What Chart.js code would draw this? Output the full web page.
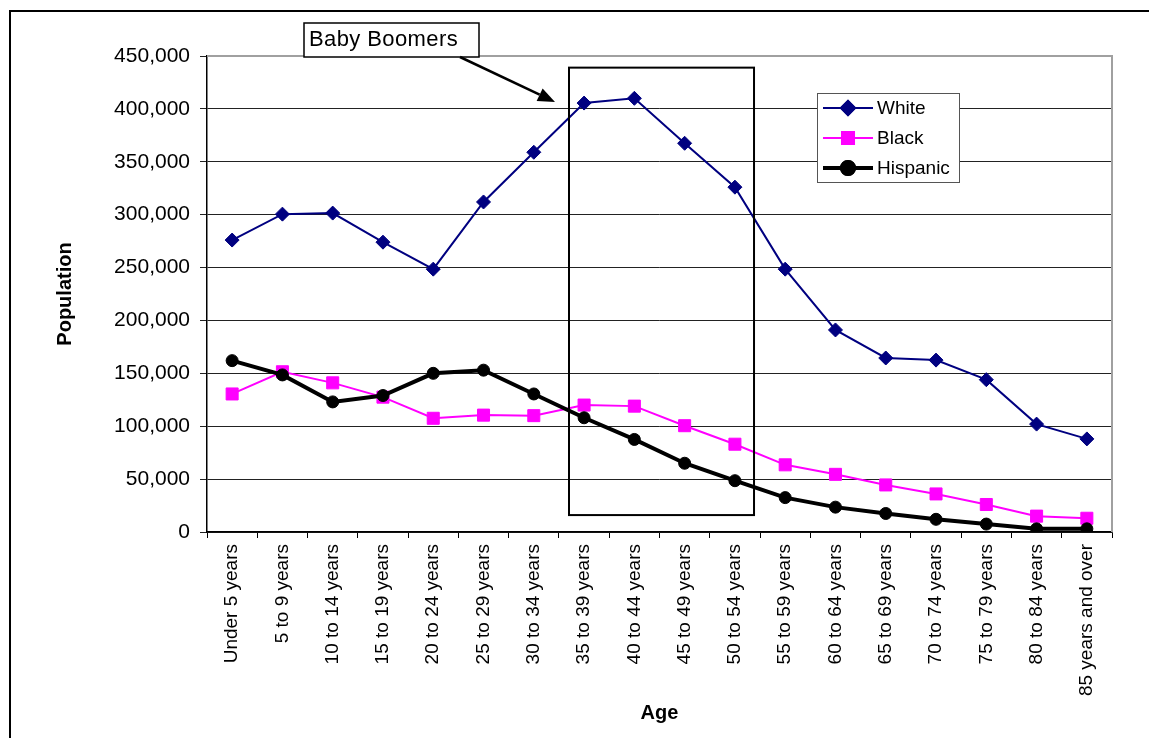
<!DOCTYPE html>
<html lang="en">
  <head>
    <meta charset="UTF-8" />
    <title>Population by Age</title>
    <script src="https://cdn.jsdelivr.net/npm/chart.js"></script>
    <style>
      html, body {
        margin: 0;
        padding: 0;
        background: #ffffff;
      }
      #wrap {
        width: 1149px;
        height: 738px;
      }
    </style>
  </head>
  <body>
    <div id="wrap"><canvas id="popChart" width="1149" height="738"></canvas></div>

    <script>
      const ageGroups = [
        "Under 5 years", "5 to 9 years", "10 to 14 years", "15 to 19 years",
        "20 to 24 years", "25 to 29 years", "30 to 34 years", "35 to 39 years",
        "40 to 44 years", "45 to 49 years", "50 to 54 years", "55 to 59 years",
        "60 to 64 years", "65 to 69 years", "70 to 74 years", "75 to 79 years",
        "80 to 84 years", "85 years and over"
      ];
      const white = [
        276000, 300500, 301500, 274000, 248500, 312000, 359000, 405500, 410000,
        367500, 326000, 248500, 191000, 164500, 162500, 144000, 102000, 88000
      ];
      const black = [
        130500, 151500, 141000, 127500, 107500, 110500, 110000, 120000, 119000,
        100500, 83000, 63500, 54500, 44500, 36000, 26000, 15000, 13000
      ];
      const hispanic = [
        162000, 148500, 123000, 129000, 150000, 153000, 130500, 108000, 87500,
        65000, 48500, 32500, 23500, 17500, 12000, 7500, 3000, 3000
      ];
      const yTicks = [0, 50000, 100000, 150000, 200000, 250000, 300000, 350000, 400000, 450000];

      const FONT = "'Liberation Sans', Arial, sans-serif";

      // boomer box spans (category index / population)
      const boomerBox = { x0: 6.7, x1: 10.38, y0: 16000, y1: 439000 };

      const overlay = {
        id: "overlay",
        beforeDraw(chart) {
          const ctx = chart.ctx;
          ctx.save();
          ctx.fillStyle = "#ffffff";
          ctx.fillRect(0, 0, chart.width, chart.height);
          ctx.restore();
        },
        afterDraw(chart) {
          const { ctx, chartArea: a, scales } = chart;
          const x = scales.x, y = scales.y;
          ctx.save();

          // plot area border (top / right, gray)
          ctx.strokeStyle = "#a0a0a0";
          ctx.lineWidth = 2;
          ctx.beginPath();
          ctx.moveTo(a.left, a.top);
          ctx.lineTo(a.right, a.top);
          ctx.lineTo(a.right, a.bottom);
          ctx.stroke();

          // outer frame
          ctx.strokeStyle = "#000";
          ctx.lineWidth = 2;
          ctx.beginPath();
          ctx.moveTo(10, chart.height + 5);
          ctx.lineTo(10, 11);
          ctx.lineTo(chart.width + 5, 11);
          ctx.stroke();

          // baby boomer rectangle
          const bx0 = x.getPixelForValue(boomerBox.x0);
          const bx1 = x.getPixelForValue(boomerBox.x1);
          const by0 = y.getPixelForValue(boomerBox.y1);
          const by1 = y.getPixelForValue(boomerBox.y0);
          ctx.strokeStyle = "#000";
          ctx.lineWidth = 2;
          ctx.strokeRect(bx0, by0, bx1 - bx0, by1 - by0);

          // label box
          ctx.fillStyle = "#fff";
          ctx.lineWidth = 1.5;
          ctx.fillRect(304, 23, 175, 34);
          ctx.strokeRect(304, 23, 175, 34);
          ctx.fillStyle = "#000";
          ctx.font = "22px " + FONT;
          ctx.textBaseline = "middle";
          ctx.textAlign = "left";
          ctx.letterSpacing = "0.4px";
          ctx.fillText("Baby Boomers", 309, 40);
          ctx.letterSpacing = "0px";

          // arrow
          const sx = 460, sy = 57;
          const tx = 555, ty = 102;
          const ang = Math.atan2(ty - sy, tx - sx);
          const hl = 17, hw = 7;
          const bxp = tx - hl * Math.cos(ang), byp = ty - hl * Math.sin(ang);
          ctx.lineWidth = 2.5;
          ctx.beginPath();
          ctx.moveTo(sx, sy);
          ctx.lineTo(bxp, byp);
          ctx.stroke();
          ctx.beginPath();
          ctx.moveTo(tx, ty);
          ctx.lineTo(bxp + hw * Math.sin(ang), byp - hw * Math.cos(ang));
          ctx.lineTo(bxp - hw * Math.sin(ang), byp + hw * Math.cos(ang));
          ctx.closePath();
          ctx.fill();

          // legend
          const lx = 817, ly = 93, lw = 142, lh = 89;
          ctx.fillStyle = "#fff";
          ctx.fillRect(lx, ly, lw, lh);
          ctx.strokeStyle = "#555";
          ctx.lineWidth = 1;
          ctx.strokeRect(lx + 0.5, ly + 0.5, lw, lh);
          chart.data.datasets.forEach((ds, i) => {
            const ry = 108 + i * 30;
            ctx.strokeStyle = ds.borderColor;
            ctx.lineWidth = ds.borderWidth;
            ctx.beginPath();
            ctx.moveTo(823, ry);
            ctx.lineTo(873, ry);
            ctx.stroke();
            Chart.helpers.drawPoint(ctx, {
              pointStyle: ds.pointStyle,
              radius: ds.pointRadius,
              borderWidth: 1,
              rotation: 0
            }, 848, ry);
            ctx.fillStyle = ds.pointBackgroundColor;
            ctx.strokeStyle = ds.pointBorderColor;
            ctx.fill();
            ctx.stroke();
            ctx.fillStyle = "#000";
            ctx.font = "19px " + FONT;
            ctx.textAlign = "left";
            ctx.textBaseline = "middle";
            ctx.fillText(ds.label, 877, ry + 1);
          });

          ctx.restore();
        }
      };

      const ctx = document.getElementById("popChart").getContext("2d");
      const popChart = new Chart(ctx, {
        type: "line",
        data: {
          labels: ageGroups,
          datasets: [
            {
              label: "White",
              data: white,
              borderColor: "#000080",
              backgroundColor: "#000080",
              pointBackgroundColor: "#000080",
              pointBorderColor: "#000080",
              borderWidth: 2,
              pointStyle: "rectRot",
              pointRadius: 7,
              pointBorderWidth: 1,
              order: 2
            },
            {
              label: "Black",
              data: black,
              borderColor: "#ff00ff",
              backgroundColor: "#ff00ff",
              pointBackgroundColor: "#ff00ff",
              pointBorderColor: "#ff00ff",
              borderWidth: 2,
              pointStyle: "rect",
              pointRadius: 8.5,
              pointBorderWidth: 1,
              order: 1
            },
            {
              label: "Hispanic",
              data: hispanic,
              borderColor: "#000000",
              backgroundColor: "#000000",
              pointBackgroundColor: "#000000",
              pointBorderColor: "#000000",
              borderWidth: 4,
              pointStyle: "circle",
              pointRadius: 6,
              pointBorderWidth: 1,
              order: 0
            }
          ]
        },
        options: {
          responsive: false,
          animation: false,
          events: [],
          layout: { padding: { left: 0, top: 56, right: 37, bottom: 0 } },
          elements: { line: { tension: 0, fill: false } },
          plugins: {
            legend: { display: false },
            tooltip: { enabled: false }
          },
          scales: {
            x: {
              offset: true,
              grid: {
                offset: true,
                drawOnChartArea: false,
                drawTicks: true,
                tickLength: 6,
                color: "#000"
              },
              border: { color: "#000", width: 1.5 },
              ticks: {
                minRotation: 90,
                maxRotation: 90,
                autoSkip: false,
                padding: 6,
                color: "#000",
                font: { family: FONT, size: 19 }
              },
              title: {
                display: true,
                text: "Age",
                color: "#000",
                font: { family: FONT, size: 20, weight: "bold" },
                padding: { top: 0, bottom: 13 }
              },
              afterFit(scale) {
                scale.height = 206;
              }
            },
            y: {
              min: 0,
              max: 450000,
              afterBuildTicks(scale) {
                scale.ticks = yTicks.map(v => ({ value: v }));
              },
              grid: {
                color: "#222",
                lineWidth: 1,
                drawTicks: true,
                tickLength: 7
              },
              border: { color: "#000", width: 1.5 },
              ticks: {
                padding: 10,
                color: "#000",
                font: { family: FONT, size: 21 },
                callback: v => v.toLocaleString("en-US")
              },
              title: {
                display: true,
                text: "Population",
                color: "#000",
                font: { family: FONT, size: 20, weight: "bold" },
                padding: { top: 53, bottom: 0 }
              },
              afterFit(scale) {
                scale.width = 207;
              }
            }
          }
        },
        plugins: [overlay]
      });
    </script>
  </body>
</html>
